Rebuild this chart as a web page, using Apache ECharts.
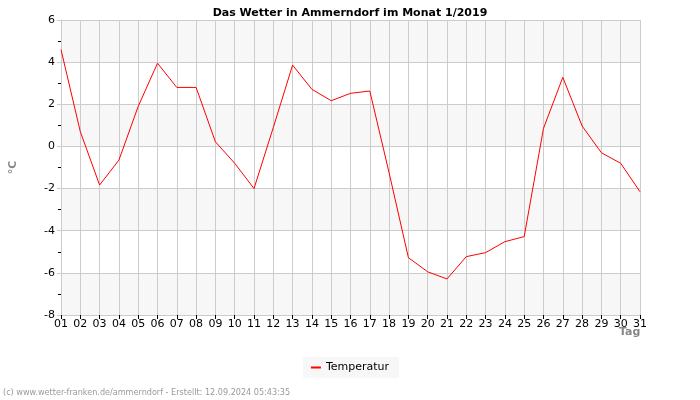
<!DOCTYPE html>
<html>
<head>
<meta charset="utf-8">
<script src="https://cdn.jsdelivr.net/npm/echarts@6/dist/echarts.min.js"></script>
<style>
  html, body { margin: 0; padding: 0; background: #fff; }
  #main { width: 700px; height: 400px; }
</style>
</head>
<body>
<div id="main"></div>
<script>
// Tage im Januar 2019
const days = ['01', '02', '03', '04', '05', '06', '07', '08', '09', '10',
  '11', '12', '13', '14', '15', '16', '17', '18', '19', '20',
  '21', '22', '23', '24', '25', '26', '27', '28', '29', '30', '31']
// Temperatur in °C
const temperatur = [4.6, 0.7, -1.83, -0.65, 1.9, 3.95, 2.8, 2.8, 0.22, -0.8,
  -2.0, 0.9, 3.86, 2.71, 2.17, 2.52, 2.63, -1.25, -5.28, -5.95,
  -6.29, -5.23, -5.04, -4.52, -4.28, 0.86, 3.28, 0.97, -0.3, -0.8, -2.15]
const yMin = -8
const yMax = 6
const yStep = 2

const myChart = echarts.init(document.getElementById('main'))
const option = {
  animation: false,
  textStyle: { fontFamily: 'DejaVu Sans' },
  title: [{
    text: 'Das Wetter in Ammerndorf im Monat 1/2019',
    left: 'center',
    top: 3,
    textStyle: { fontSize: 11, fontWeight: 'bold', color: '#000' }
  }, {
    text: '(c) www.wetter-franken.de/ammerndorf - Erstellt: 12.09.2024 05:43:35',
    left: 3,
    top: 388,
    padding: 0,
    textStyle: { fontSize: 9, fontWeight: 'normal', color: '#999', fontFamily: 'DejaVu Sans Condensed, DejaVu Sans, sans-serif' }
  }],
  grid: { left: 60, right: 60, top: 20, bottom: 85 },
  legend: {
    top: 357,
    left: 'center',
    backgroundColor: '#f7f7f7',
    padding: [5, 10, 5, 8],
    itemWidth: 10,
    itemHeight: 2,
    itemGap: 6,
    textStyle: { fontSize: 11, color: '#000' },
    data: [{ name: 'Temperatur', icon: 'rect' }]
  },
  xAxis: {
    type: 'category',
    data: days,
    boundaryGap: false,
    axisLine: { show: true, onZero: false, lineStyle: { color: '#ccc' } },
    axisTick: { show: true, length: 4, lineStyle: { color: '#000' } },
    axisLabel: { color: '#000', fontSize: 11, margin: 4, interval: 0 },
    splitLine: { show: true, lineStyle: { color: '#ccc' } }
  },
  yAxis: {
    type: 'value',
    min: yMin,
    max: yMax,
    interval: yStep,
    name: '°C',
    nameLocation: 'middle',
    nameRotate: 90,
    nameGap: 42,
    nameTextStyle: { color: '#888', fontSize: 11, fontWeight: 'bold' },
    axisLine: { show: true, lineStyle: { color: '#ccc' } },
    axisTick: { show: true, length: 4, lineStyle: { color: '#ccc' } },
    minorTick: { show: true, splitNumber: 2, length: 3, lineStyle: { color: '#000' } },
    axisLabel: { color: '#000', fontSize: 11, margin: 6 },
    splitLine: { show: true, lineStyle: { color: '#ccc' } },
    splitArea: { show: true, areaStyle: { color: ['#f7f7f7', '#ffffff'] } }
  },
  graphic: [{
    type: 'text',
    left: 619,
    top: 327,
    style: { text: 'Tag', fill: '#888', font: 'bold 11px DejaVu Sans' }
  }],
  series: [{
    name: 'Temperatur',
    type: 'line',
    data: temperatur,
    symbol: 'none',
    lineStyle: { color: '#ff0000', width: 1 },
    itemStyle: { color: '#ff0000' }
  }]
}
myChart.setOption(option)
</script>
</body>
</html>
